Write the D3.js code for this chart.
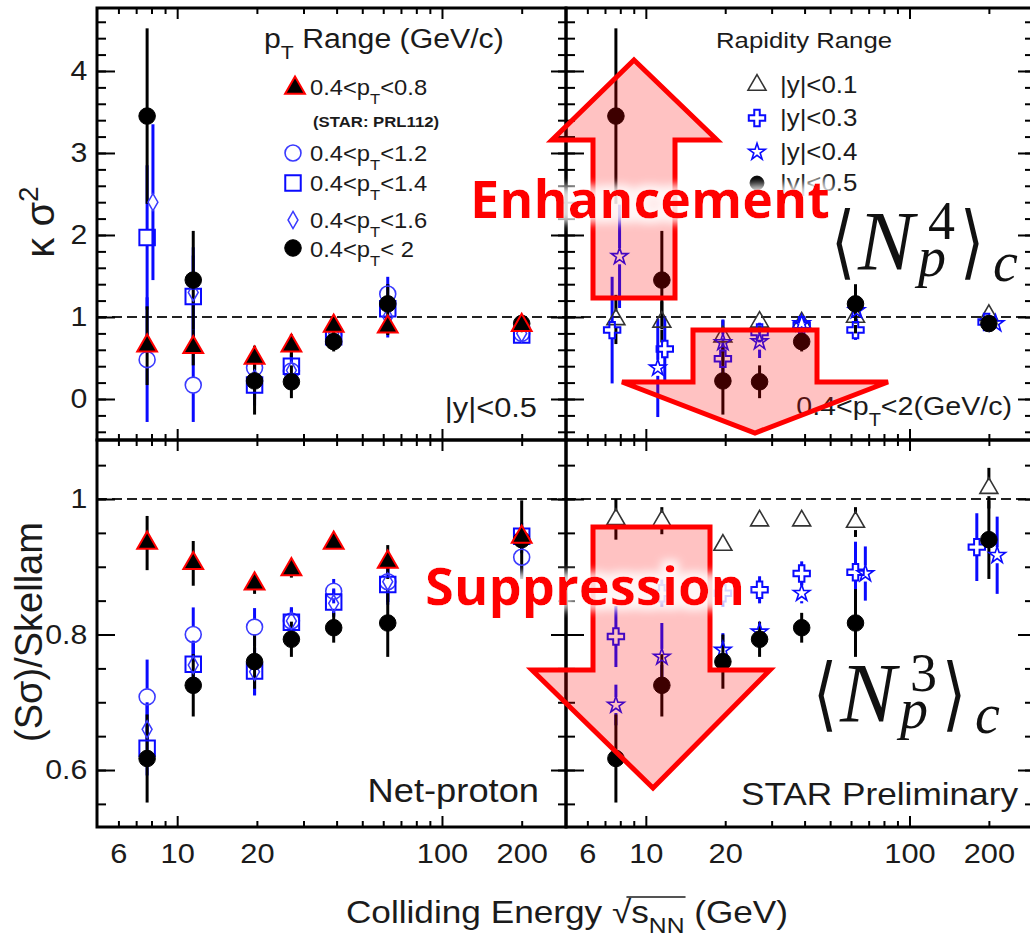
<!DOCTYPE html>
<meta charset="utf-8">
<script src="https://d3js.org/d3.v7.min.js"></script>
<style>
body { margin: 0; background: #fff; }
text { font-family: "Liberation Sans", Arial, Helvetica, sans-serif; fill: #1b1b1b; }
</style>
<div id="chart"></div>
<script>
// collision energies (GeV)
const energies = [7.7, 11.5, 19.6, 27, 39, 62.4, 200];

// ---- kappa*sigma^2, |y|<0.5, pT windows (top left)
const kTri = [0.65, 0.63, 0.50, 0.65, 0.89, 0.88, 0.90];      // 0.4<pT<0.8 (PRL112)
const kTriErr = [0.48, 0.22, 0.15, 0.14, 0.08, 0.10, 0.05];
const kCirc = [0.48, 0.17, 0.38, 0.34, 0.78, 1.28, 0.80];     // 0.4<pT<1.2
const kCircErr = [0.76, 0.45, 0.22, 0.20, 0.10, 0.21, 0.05];
const kSq = [1.97, 1.25, 0.17, 0.40, 0.76, 1.10, 0.78];       // 0.4<pT<1.4
const kSqErr = [0.88, 0.50, 0.25, 0.20, 0.10, 0.30, 0.05];
const kDia = [2.40, 1.30, 0.25, 0.35, 0.80, 1.00, 0.80];      // 0.4<pT<1.6
const kDiaErr = [0.95, 0.55, 0.25, 0.20, 0.10, 0.25, 0.05];
const kDiaE = [8.1, 11.5, 19.6, 27, 39, 62.4, 200];
const kFull = [3.45, 1.45, 0.22, 0.21, 0.70, 1.16, 0.92];     // 0.4<pT<2, |y|<0.5
const kFullErr = [1.07, 0.60, 0.41, 0.20, 0.12, 0.24, 0.06];

// ---- kappa*sigma^2, 0.4<pT<2, rapidity windows (top right)
const kyTri = [0.97, 0.94, 0.76, 0.94, 0.93, 1.00, 1.02];     // |y|<0.1
const kyTriErr = [0.30, 0.25, 0.20, 0.08, 0.07, 0.20, 0.05];
const kyCross = [0.84, 0.61, 0.49, 0.81, 0.90, 0.84, 0.94];   // |y|<0.3
const kyCrossErr = [0.65, 0.40, 0.25, 0.12, 0.08, 0.12, 0.06];
const kyCrossE = [7.45, 11.8, 19.6, 27, 39, 62.4, 196];
const kyStar = [1.74, 0.38, 0.69, 0.70, 0.92, 1.08, 0.92];    // |y|<0.4
const kyStarErr = [0.63, 0.60, 0.28, 0.20, 0.10, 0.15, 0.06];
const kyStarE = [7.95, 11.1, 19.6, 27, 39, 63, 212];

// ---- (S sigma)/Skellam, |y|<0.5, pT windows (bottom left)
const sTri = [0.935, 0.905, 0.875, 0.896, 0.935, 0.907, 0.944];
const sTriErr = [0.040, 0.033, 0.015, 0.012, 0.006, 0.025, 0.010];
const sCirc = [0.708, 0.800, 0.811, 0.820, 0.864, 0.878, 0.914];
const sCircErr = [0.055, 0.040, 0.028, 0.020, 0.018, 0.030, 0.030];
const sSq = [0.632, 0.756, 0.746, 0.818, 0.848, 0.874, 0.945];
const sSqErr = [0.040, 0.035, 0.035, 0.020, 0.020, 0.030, 0.020];
const sDia = [0.660, 0.755, 0.745, 0.820, 0.846, 0.878, 0.940];
const sDiaErr = [0.040, 0.035, 0.035, 0.020, 0.020, 0.030, 0.020];
const sFull = [0.617, 0.725, 0.760, 0.793, 0.810, 0.817, 0.940];
const sFullErr = [0.065, 0.046, 0.040, 0.026, 0.022, 0.050, 0.058];

// ---- (S sigma)/Skellam, 0.4<pT<2, rapidity windows (bottom right)
const syTri = [0.970, 0.968, 0.932, 0.968, 0.968, 0.966, 1.016];
const syTriErr = [0.030, 0.020, 0.008, 0.005, 0.005, 0.022, 0.030];
const syCross = [0.797, 0.861, 0.861, 0.866, 0.890, 0.892, 0.929];
const syCrossErr = [0.045, 0.020, 0.020, 0.020, 0.018, 0.045, 0.050];
const syCrossE = [7.7, 11.5, 19.6, 27, 39, 62.4, 180];
const syStar = [0.696, 0.767, 0.777, 0.804, 0.861, 0.890, 0.917];
const syStarErr = [0.030, 0.050, 0.025, 0.010, 0.015, 0.040, 0.057];
const syStarE = [7.7, 11.5, 19.6, 27, 39, 68, 215];

// axis ticks
const xMinorTicks = [6, 7, 8, 9, 20, 30, 40, 50, 60, 70, 80, 90, 200];
const xMajorTicks = [10, 100];
const xTickLabels = [6, 10, 20, 100, 200];
const kMajorTicks = [0, 1, 2, 3, 4];
const kMinorTicks = d3.range(-2, 24).map(i => +(i * 0.2).toFixed(1));
const sMajorTicks = [0.6, 0.8, 1];
const sMinorTicks = d3.range(11, 22).map(i => +(i * 0.05).toFixed(2));

const W = 1030, H = 940;
const BLUE = "#0a0aff", MBLUE = "#3a3aff", RED = "#ff0000";

const svg = d3.select("#chart").append("svg")
  .attr("width", W).attr("height", H)
  .style("display", "block").style("background", "#fff");

// soft white halo behind the red slide text
const defs = svg.append("defs");
const glow = defs.append("filter").attr("id", "glow")
  .attr("x", "-8%").attr("y", "-40%").attr("width", "116%").attr("height", "180%");
glow.append("feMorphology").attr("in", "SourceAlpha").attr("operator", "dilate").attr("radius", 5).attr("result", "d");
glow.append("feGaussianBlur").attr("in", "d").attr("stdDeviation", 4).attr("result", "b");
glow.append("feFlood").attr("flood-color", "#fff").attr("flood-opacity", 0.85).attr("result", "f");
glow.append("feComposite").attr("in", "f").attr("in2", "b").attr("operator", "in").attr("result", "g");
const mg = glow.append("feMerge");
mg.append("feMergeNode").attr("in", "g");
mg.append("feMergeNode").attr("in", "SourceGraphic");

// scales
const eDomain = [4.98, 294];
const xLeft = d3.scaleLog().domain(eDomain).range([97, 566]);
const xRight = d3.scaleLog().domain(eDomain).range([566, 1033]);
const yK = d3.scaleLinear().domain([-0.5, 4.768]).range([440, 8]);
const yS = d3.scaleLinear().domain([0.5159, 1.0871]).range([827, 440]);

// marker styles
const markers = {
  tri:   {sym: d3.symbolTriangle, size: 170, fill: "#000", stroke: RED, sw: 2, gap: 0, err: "#000"},
  circ:  {sym: d3.symbolCircle, size: 200, fill: "none", stroke: MBLUE, sw: 1.6, gap: 8, err: BLUE},
  sq:    {sym: d3.symbolSquare, size: 240, fill: "none", stroke: BLUE, sw: 2, gap: 8, err: BLUE},
  dia:   {sym: d3.symbolDiamond, size: 85, fill: "none", stroke: MBLUE, sw: 1.5, gap: 8, err: BLUE},
  full:  {sym: d3.symbolCircle, size: 215, fill: "#000", stroke: "#000", sw: 1, gap: 0, err: "#000"},
  otri:  {sym: d3.symbolTriangle, size: 140, fill: "none", stroke: "#333", sw: 1.6, gap: 8, err: "#000"},
  cross: {sym: d3.symbolCross, size: 150, fill: "none", stroke: BLUE, sw: 2, gap: 8, err: BLUE},
  star:  {sym: d3.symbolStar, size: 85, fill: "none", stroke: BLUE, sw: 1.6, gap: 8, err: BLUE}
};

const panels = [
  {x: xLeft, y: yK, yMajor: kMajorTicks, yMinor: kMinorTicks, yLabels: true, xLabels: false, series: [
    {m: "circ", v: kCirc, e: kCircErr, E: energies},
    {m: "sq", v: kSq, e: kSqErr, E: energies},
    {m: "dia", v: kDia, e: kDiaErr, E: kDiaE},
    {m: "full", v: kFull, e: kFullErr, E: energies},
    {m: "tri", v: kTri, e: kTriErr, E: energies}]},
  {x: xRight, y: yK, yMajor: kMajorTicks, yMinor: kMinorTicks, yLabels: false, xLabels: false, series: [
    {m: "otri", v: kyTri, e: kyTriErr, E: energies},
    {m: "cross", v: kyCross, e: kyCrossErr, E: kyCrossE},
    {m: "star", v: kyStar, e: kyStarErr, E: kyStarE},
    {m: "full", v: kFull, e: kFullErr, E: energies}]},
  {x: xLeft, y: yS, yMajor: sMajorTicks, yMinor: sMinorTicks, yLabels: true, xLabels: true, series: [
    {m: "circ", v: sCirc, e: sCircErr, E: energies},
    {m: "sq", v: sSq, e: sSqErr, E: energies},
    {m: "dia", v: sDia, e: sDiaErr, E: energies},
    {m: "full", v: sFull, e: sFullErr, E: energies},
    {m: "tri", v: sTri, e: sTriErr, E: energies}]},
  {x: xRight, y: yS, yMajor: sMajorTicks, yMinor: sMinorTicks, yLabels: false, xLabels: true, series: [
    {m: "otri", v: syTri, e: syTriErr, E: energies},
    {m: "cross", v: syCross, e: syCrossErr, E: syCrossE},
    {m: "star", v: syStar, e: syStarErr, E: syStarE},
    {m: "full", v: sFull, e: sFullErr, E: energies}]}
];

function styleAxis(g, sw) {
  g.select(".domain").remove();
  g.selectAll("line").attr("stroke", "#000").attr("stroke-width", sw);
}

panels.forEach((p, i) => {
  const [x0, x1] = p.x.range(), [y0, y1] = p.y.range();
  const g = svg.append("g");
  const cid = "clip" + i;
  defs.append("clipPath").attr("id", cid).append("rect")
    .attr("x", x0).attr("y", y1).attr("width", x1 - x0).attr("height", y0 - y1);
  const plot = g.append("g").attr("clip-path", `url(#${cid})`);

  // reference line at 1
  plot.append("line")
    .attr("x1", x0).attr("x2", x1).attr("y1", p.y(1)).attr("y2", p.y(1))
    .attr("stroke", "#222").attr("stroke-width", 2).attr("stroke-dasharray", "10,5");

  // error bars (with a gap through open markers)
  p.series.forEach(s => {
    const st = markers[s.m];
    const segs = [];
    s.v.forEach((v, k) => {
      const cx = p.x(s.E[k]), cy = p.y(v), top = p.y(v + s.e[k]), bot = p.y(v - s.e[k]);
      if (cy - st.gap > top) segs.push([cx, top, cy - st.gap]);
      if (bot > cy + st.gap) segs.push([cx, cy + st.gap, bot]);
    });
    plot.append("g").selectAll("line").data(segs).join("line")
      .attr("x1", d => d[0]).attr("x2", d => d[0])
      .attr("y1", d => d[1]).attr("y2", d => d[2])
      .attr("stroke", st.err).attr("stroke-width", 3);
  });
  // markers
  p.series.forEach(s => {
    const st = markers[s.m];
    plot.append("g").selectAll("path").data(s.v.map((v, k) => ({E: s.E[k], v})))
      .join("path")
      .attr("d", d3.symbol(st.sym, st.size))
      .attr("transform", d => `translate(${p.x(d.E)},${p.y(d.v)})`)
      .attr("fill", st.fill).attr("stroke", st.stroke).attr("stroke-width", st.sw);
  });

  // ticks on all four sides, pointing inward
  const axes = [
    [d3.axisBottom(p.x), `translate(0,${y0})`, xMinorTicks, -6, xMajorTicks, -11],
    [d3.axisTop(p.x), `translate(0,${y1})`, xMinorTicks, -6, xMajorTicks, -11],
    [d3.axisLeft(p.y), `translate(${x0},0)`, p.yMinor, -9, p.yMajor, -18],
    [d3.axisRight(p.y), `translate(${x1},0)`, p.yMinor, -8, p.yMajor, -15]
  ];
  axes.forEach(([ax, tr, minor, ml, major, Ml]) => {
    g.append("g").attr("transform", tr)
      .call(ax.tickValues(minor).tickSize(ml).tickFormat("")).call(a => styleAxis(a, 2));
    g.append("g").attr("transform", tr)
      .call(ax.tickValues(major).tickSize(Ml).tickFormat("")).call(a => styleAxis(a, 2));
  });

  if (p.yLabels) {
    g.append("g").attr("transform", `translate(${x0},0)`)
      .call(d3.axisLeft(p.y).tickValues(p.yMajor).tickSize(0).tickPadding(9).tickFormat(d3.format("")))
      .call(a => a.select(".domain").remove())
      .attr("font-size", 28)
      .selectAll("text").attr("transform", "scale(1.08,1)");
  }
  if (p.xLabels) {
    g.append("g").attr("transform", `translate(0,${y0})`)
      .call(d3.axisBottom(p.x).tickValues(xTickLabels).tickSize(0).tickPadding(16).tickFormat(d3.format("d")))
      .call(a => a.select(".domain").remove())
      .attr("font-size", 28)
      .selectAll("text").attr("transform", "scale(1.1,1)");
  }

  g.append("rect").attr("x", x0).attr("y", y1).attr("width", x1 - x0).attr("height", y0 - y1)
    .attr("fill", "none").attr("stroke", "#000").attr("stroke-width", 3);
});

// text helper: ROOT text is drawn a bit wide
function rich(x, y, parts, size, anchor, sx, extra, subShift) {
  const t = svg.append("text")
    .attr("transform", `translate(${x},${y}) scale(${sx},1)` + (extra || ""))
    .attr("font-size", size).attr("text-anchor", anchor || "start");
  let shift = 0;
  parts.forEach(pt => {
    const str = typeof pt === "string" ? pt : pt.t;
    const want = typeof pt === "string" ? 0 : (pt.sub ? size * (subShift || 0.42) : -size * 0.4);
    const ts = t.append("tspan").text(str).attr("dy", want - shift);
    if (typeof pt !== "string") ts.attr("font-size", size * 0.7);
    shift = want;
  });
  return t;
}

// left legend
rich(264, 48, ["p", {t: "T", sub: 1}, " Range (GeV/c)"], 27, "start", 1.12);
const legL = [
  ["tri", 295, 88, 95, "0.8"], ["circ", 293, 153, 161, "1.2"], ["sq", 293, 183, 191, "1.4"],
  ["dia", 293, 220, 228, "1.6"], ["full", 293, 248, 257, " 2"]
];
legL.forEach(([m, mx, my, by, hi]) => {
  const st = markers[m];
  svg.append("path").attr("d", d3.symbol(st.sym, st.size)).attr("transform", `translate(${mx},${my})`)
    .attr("fill", st.fill).attr("stroke", st.stroke).attr("stroke-width", st.sw);
  rich(310, by, ["0.4<p", {t: "T", sub: 1}, "<" + hi], 22, "start", 1.08);
});
rich(313, 127, ["(STAR: PRL112)"], 15.5, "start", 1.08).attr("font-weight", "bold");

// right legend
rich(716, 48, ["Rapidity Range"], 23, "start", 1.12);
const legR = [["otri", 757, 85, 93, "0.1"], ["cross", 757, 118, 126, "0.3"], ["star", 757, 152, 160, "0.4"], ["full", 757, 183, 191, "0.5"]];
legR.forEach(([m, mx, my, by, hi]) => {
  const st = markers[m];
  svg.append("path").attr("d", d3.symbol(st.sym, m === "full" ? 150 : st.size)).attr("transform", `translate(${mx},${my})`)
    .attr("fill", st.fill).attr("stroke", st.stroke).attr("stroke-width", st.sw);
  rich(780, by, ["|y|<" + hi], 23.5, "start", 1.1);
});

// panel captions
rich(537, 417, ["|y|<0.5"], 28, "end", 1.1);
rich(1012, 415, ["0.4<p", {t: "T", sub: 1}, "<2(GeV/c)"], 26, "end", 1.1);
rich(539, 802, ["Net-proton"], 33, "end", 1.1);
rich(1018, 805, ["STAR Preliminary"], 32, "end", 1.1);

// axis titles
rich(54, 222, ["κ σ", {t: "2", sub: 0}], 40, "middle", 1, " rotate(-90)");
rich(42, 632, ["(Sσ)/Skellam"], 38, "middle", 1, " rotate(-90)");
const xt = rich(567, 923, ["Colliding Energy ", "√", "s", {t: "NN", sub: 1}, " (GeV)"], 32, "middle", 1.1, "", 0.3);
{
  // vinculum of the square root
  const node = xt.node();
  const str = "Colliding Energy √sNN";
  const i0 = str.indexOf("√");
  const a = node.getStartPositionOfChar(i0), b = node.getEndPositionOfChar(str.length - 1);
  const ax = a.x + (node.getEndPositionOfChar(i0).x - a.x) * 0.75;
  svg.append("line").attr("transform", xt.attr("transform"))
    .attr("x1", ax).attr("x2", b.x + 1).attr("y1", -26).attr("y2", -26)
    .attr("stroke", "#1b1b1b").attr("stroke-width", 1.6);
}

// slide annotations: arrows
const arrowUp = [[634, 60], [717, 140], [675, 140], [675, 298], [593, 298], [593, 140], [552, 140]];
const arrowDown1 = [[693, 330], [817, 330], [817, 382], [888, 382], [755, 433], [622, 382], [693, 382]];
const arrowDown2 = [[593, 527], [710, 527], [710, 670], [770, 670], [653, 788], [532, 670], [593, 670]];
[arrowUp, arrowDown1, arrowDown2].forEach(pts => {
  svg.append("path").attr("d", d3.line()(pts) + "Z")
    .attr("fill", "rgba(255,0,0,0.24)").attr("stroke", RED).attr("stroke-width", 5)
    .attr("stroke-linejoin", "miter");
});

function slideText(x, y, str, len) {
  svg.append("text").attr("x", x).attr("y", y).text(str)
    .attr("font-size", 52).attr("font-weight", 700)
    .attr("textLength", len).attr("lengthAdjust", "spacingAndGlyphs")
    .attr("filter", "url(#glow)")
    .style("font-family", "'Open Sans', 'Noto Sans', sans-serif").style("fill", RED);
}
slideText(470, 218, "Enhancement", 360);
slideText(425, 605, "Suppression", 320);

// cumulant symbols <N_p^n>_c
function cumulant(x0, y0, n) {
  const serif = "'Liberation Serif', 'DejaVu Serif', serif";
  const add = (x, y, s, size, italic) => svg.append("text").attr("x", x).attr("y", y).text(s)
    .attr("font-size", size).style("font-family", serif).style("font-style", italic ? "italic" : "normal")
    .style("fill", "#111");
  const bracket = (cx, s) => svg.append("text").text(s)
    .attr("transform", `translate(${cx},${y0 - 1}) scale(1,1.3)`)
    .attr("text-anchor", "middle").attr("font-size", 62)
    .style("font-family", "'DejaVu Sans', sans-serif").style("fill", "#111");
  bracket(x0 - 15, "⟨");
  add(x0, y0, "N", 84, true);
  add(x0 + 70, y0 - 31, n, 54, false);
  add(x0 + 60, y0 + 6, "p", 56, true);
  bracket(x0 + 114, "⟩");
  add(x0 + 135, y0 + 11, "c", 56, true);
}
cumulant(858, 270, "4");
cumulant(840, 722, "3");
</script>
